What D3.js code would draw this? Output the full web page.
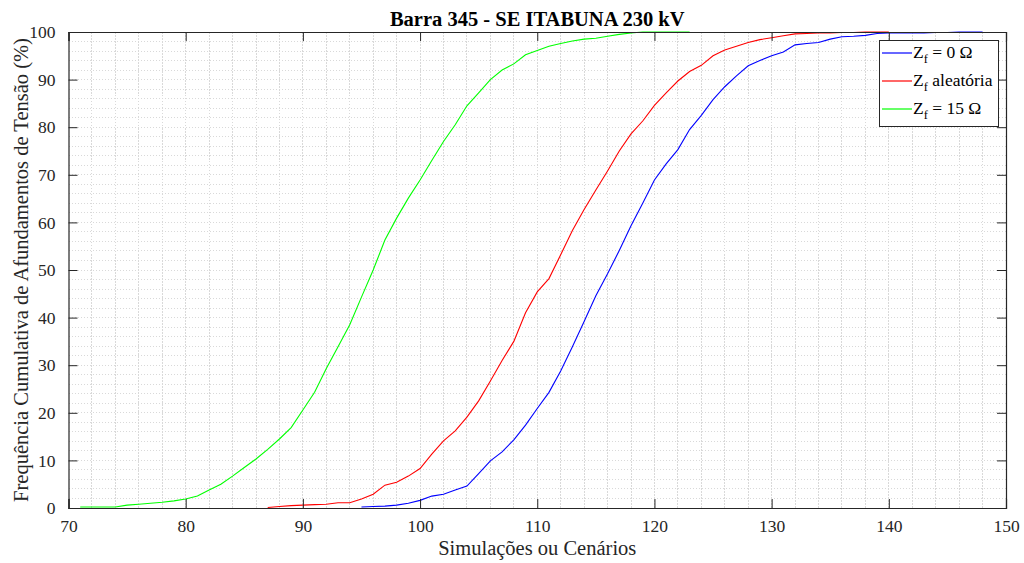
<!DOCTYPE html>
<html><head><meta charset="utf-8">
<script src="https://cdn.jsdelivr.net/npm/d3@7"></script>
<style>
body{margin:0;background:#fff;}
svg{display:block;font-family:"Liberation Serif","Times New Roman",serif;}
</style></head><body>
<svg id="c" width="1024" height="563"></svg>
<script>
const xTicks = [70,80,90,100,110,120,130,140,150];
const yTicks = [0,10,20,30,40,50,60,70,80,90,100];

const xZero = d3.range(95,149);
const valZero = [0.2,0.3,0.4,0.6,1.0,1.6,2.5,2.9,3.8,4.6,7.2,9.9,11.8,14.3,17.4,20.9,24.3,28.8,33.9,39.2,44.6,49.2,54.1,59.3,64.0,68.9,72.3,75.3,79.5,82.5,85.8,88.5,90.8,92.9,94.0,95.0,95.8,97.3,97.6,97.8,98.5,99.0,99.1,99.3,99.7,99.8,99.8,99.8,99.8,99.9,99.9,100,100,100];

const xRand = d3.range(87,141);
const valRand = [0.1,0.3,0.5,0.6,0.7,0.8,1.1,1.1,1.9,2.9,4.8,5.4,6.7,8.3,11.3,14.1,16.2,19.1,22.5,26.7,31.0,35.0,41.0,45.4,48.2,53.2,58.3,62.7,66.8,70.8,75.0,78.6,81.3,84.6,87.2,89.7,91.7,93.0,95.0,96.2,97.0,97.8,98.4,98.8,99.2,99.6,99.7,99.8,99.8,99.9,99.9,100,100,100];

const xFifteen = d3.range(71,124);
const valFifteen = [0.2,0.2,0.2,0.2,0.6,0.8,1.0,1.2,1.5,1.9,2.5,3.8,5.0,6.7,8.5,10.3,12.3,14.5,16.9,20.6,24.3,29.3,33.9,38.5,44.3,50.0,56.3,60.9,65.1,68.9,73.0,77.0,80.5,84.5,87.2,90.0,92.0,93.3,95.2,96.1,97.0,97.6,98.1,98.5,98.7,99.1,99.5,99.8,100,100,100,100,100];

const seriesNames = ["= 0 Ω"," aleatória","= 15 Ω"];
const seriesColors = ["#0000ff","#ff0000","#00ff00"];
const series = [
  {xs:xZero, ys:valZero},
  {xs:xRand, ys:valRand},
  {xs:xFifteen, ys:valFifteen}
];

const svg = d3.select("#c");
const L=68.5, R=1006, T=32, B=508;
const x = d3.scaleLinear().domain([70,150]).range([L,R]);
const y = d3.scaleLinear().domain([0,100]).range([B,T]);

// grid
const g = svg.append("g");
const gx = d3.range(72,150,2), gy = d3.range(2,100,2);
g.selectAll("line.gx").data(gx).join("line")
  .attr("x1",d=>x(d)).attr("x2",d=>x(d)).attr("y1",T).attr("y2",B)
  .attr("stroke","#d9d9d9").attr("stroke-width",1).attr("stroke-dasharray","1.5,1.5").attr("shape-rendering","crispEdges");
g.selectAll("line.gy").data(gy).join("line")
  .attr("y1",d=>y(d)).attr("y2",d=>y(d)).attr("x1",L).attr("x2",R)
  .attr("stroke","#d9d9d9").attr("stroke-width",1).attr("stroke-dasharray","1.5,1.5").attr("shape-rendering","crispEdges");

// lines
const line = d3.line().x(d=>x(d[0])).y(d=>y(d[1]));
series.forEach((s,i)=>{
  svg.append("path").datum(s.xs.map((v,j)=>[v,s.ys[j]]))
    .attr("d",line).attr("fill","none").attr("stroke",seriesColors[i]).attr("stroke-width",1.1);
});

// axes (ticks inward)
const ac="#262626";
const tl=9;
const axB = svg.append("g").attr("transform",`translate(0,${B})`)
  .call(d3.axisBottom(x).tickValues(xTicks).tickSize(-tl).tickPadding(12).tickFormat(d3.format("d")));
const axT = svg.append("g").attr("transform",`translate(0,${T})`)
  .call(d3.axisTop(x).tickValues(xTicks).tickSize(-tl).tickFormat(""));
const axL = svg.append("g").attr("transform",`translate(${L},0)`)
  .call(d3.axisLeft(y).tickValues(yTicks).tickSize(-tl).tickPadding(13).tickFormat(d3.format("d")));
const axR = svg.append("g").attr("transform",`translate(${R},0)`)
  .call(d3.axisRight(y).tickValues(yTicks).tickSize(-tl).tickFormat(""));
[axB,axT,axL,axR].forEach(a=>{
  a.select(".domain").attr("stroke",ac).attr("stroke-width",1.2);
  a.selectAll(".tick line").attr("stroke",ac).attr("stroke-width",1);
  a.selectAll("text").attr("fill",ac).attr("font-size",17.5).attr("font-family","Liberation Serif, serif");
});
axB.selectAll("text").attr("dy","0.71em");

// title
svg.append("text").attr("x",(L+R)/2).attr("y",26).attr("text-anchor","middle")
  .attr("font-size",20.5).attr("font-weight","bold").attr("fill","#000")
  .text("Barra 345 - SE ITABUNA 230 kV");
// axis labels
svg.append("text").attr("x",(L+R)/2).attr("y",555).attr("text-anchor","middle")
  .attr("font-size",20.5).attr("fill",ac).text("Simulações ou Cenários");
svg.append("text").attr("transform",`translate(28,${(T+B)/2}) rotate(-90)`).attr("text-anchor","middle")
  .attr("font-size",20.5).attr("fill",ac).text("Frequência Cumulativa de Afundamentos de Tensão (%)");

// legend
const lg = svg.append("g");
lg.append("rect").attr("x",879.5).attr("y",40.5).attr("width",119).attr("height",86)
  .attr("fill","#fff").attr("stroke",ac).attr("stroke-width",1);
seriesNames.forEach((n,i)=>{
  const yy = 53 + i*28;
  lg.append("line").attr("x1",882).attr("x2",912).attr("y1",yy).attr("y2",yy)
    .attr("stroke",seriesColors[i]).attr("stroke-width",1.2);
  const t = lg.append("text").attr("x",913).attr("y",yy+5.3).attr("font-size",17.5).attr("fill","#000");
  t.append("tspan").text("Z");
  t.append("tspan").attr("font-size",12.5).attr("dy",5).text("f");
  t.append("tspan").attr("dy",-5).text(i===1? n : " "+n);
});
</script>
</body></html>
